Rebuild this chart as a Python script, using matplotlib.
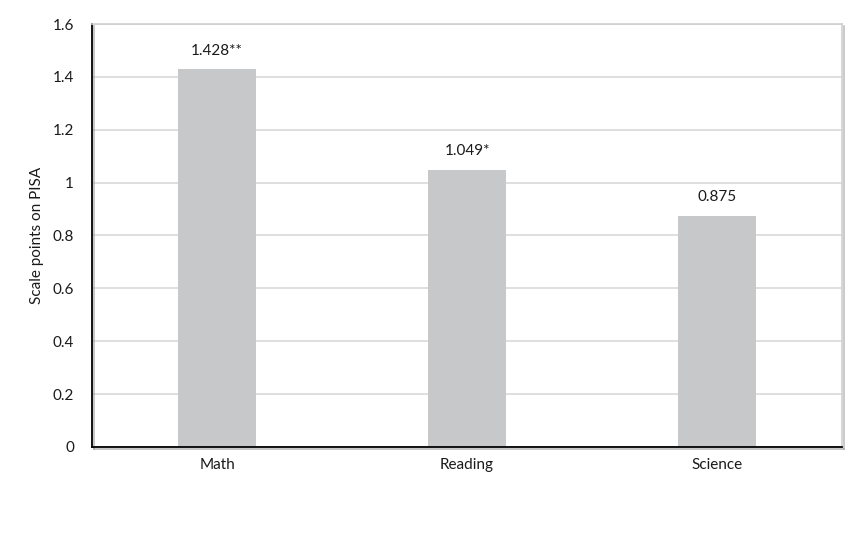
import matplotlib.pyplot as plt
import matplotlib.patheffects as pe

plt.rcParams['font.family'] = ['Lato', 'DejaVu Sans']

subjects = ['Math', 'Reading', 'Science']
effects = [1.428, 1.049, 0.875]
labels = ['1.428**', '1.049*', '0.875']

fig = plt.figure(figsize=(8.61, 5.34), dpi=100)
ax = fig.add_axes([0.107, 0.163, 0.871, 0.792])

x = range(len(subjects))
ax.bar(x, effects, width=0.315, color='#c7c8ca', zorder=2)
for xi, v, lab in zip(x, effects, labels):
    ax.text(xi, v + 0.045, lab, ha='center', va='bottom', fontsize=11, color='#1a1a1a')

ax.set_xlim(-0.5, 2.5)
ax.set_ylim(0, 1.6)
ax.set_yticks([0, 0.2, 0.4, 0.6, 0.8, 1.0, 1.2, 1.4, 1.6])
ax.set_yticklabels(['0', '0.2', '0.4', '0.6', '0.8', '1', '1.2', '1.4', '1.6'])
ax.set_xticks(list(x))
ax.set_xticklabels(subjects)
ax.tick_params(length=0, labelsize=11, colors='#1a1a1a')
ax.tick_params(axis='y', pad=13)
ax.tick_params(axis='x', pad=8)
ax.set_ylabel('Scale points on PISA', fontsize=11, color='#1a1a1a', labelpad=6)

ax.grid(axis='y', color='#d9d9d9', linewidth=1.2, zorder=0)
ax.set_axisbelow(True)

shadow = [pe.SimpleLineShadow(offset=(1.5, -1.5), shadow_color='#999999', alpha=0.6), pe.Normal()]
for side in ['left', 'bottom']:
    ax.spines[side].set_color('#000000')
    ax.spines[side].set_linewidth(1.3)
    ax.spines[side].set_path_effects(shadow)
for side in ['top', 'right']:
    ax.spines[side].set_color('#d0d0d0')
    ax.spines[side].set_linewidth(1.2)
ax.spines['right'].set_path_effects(shadow)

fig.savefig('out.png', dpi=100)
